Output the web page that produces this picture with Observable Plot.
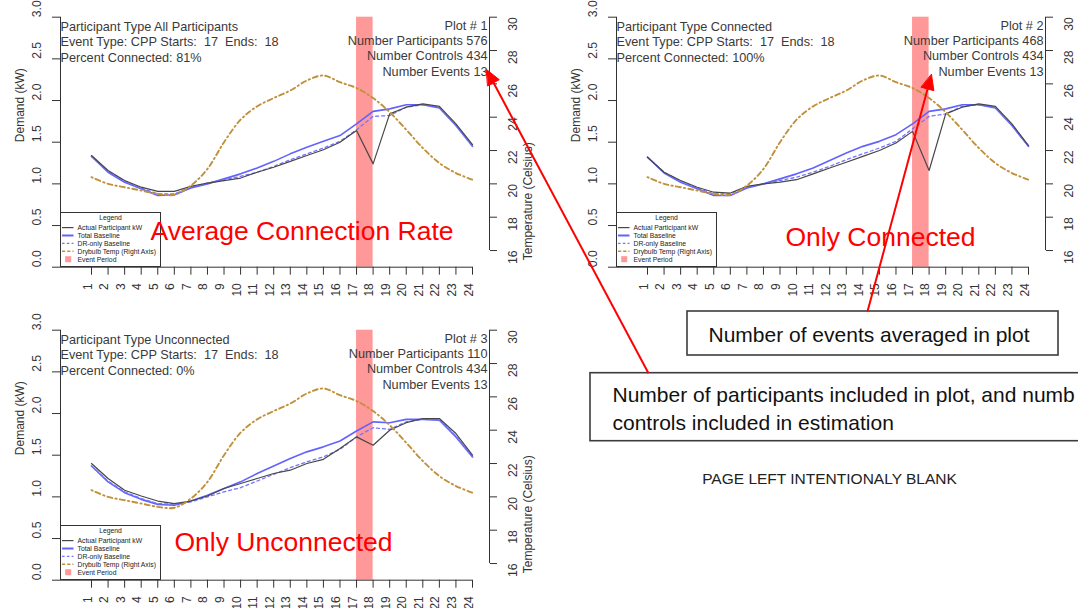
<!DOCTYPE html>
<html>
<head>
<meta charset="utf-8">
<script src="https://cdn.jsdelivr.net/npm/d3@7"></script>
<script src="https://cdn.jsdelivr.net/npm/@observablehq/plot@0.6"></script>
<style>
  html, body { margin: 0; padding: 0; background: #fff; }
  body { width: 1078px; height: 608px; overflow: hidden; position: relative; font-family: "Liberation Sans", Arial, Helvetica, sans-serif; }
  .panel { position: absolute; width: 545px; height: 305px; }
  .panel > svg, .overlay > svg { position: absolute; left: 0; top: 0; }
  .overlay { position: absolute; left: 0; top: 0; width: 1078px; height: 608px; pointer-events: none; }
  svg text { white-space: pre; }
  .legend { position: absolute; box-sizing: border-box; border: 1px solid #333; background: #fff; }
  .legend svg { position: absolute; left: 0; top: 0; }
</style>
</head>
<body>
<script>
// ---------------- DATA ----------------
const hours = [1,2,3,4,5,6,7,8,9,10,11,12,13,14,15,16,17,18,19,20,21,22,23,24];
const eventStart = 17;
const eventEnd = 18;
const demandTicks = [0, 0.5, 1.0, 1.5, 2.0, 2.5, 3.0];
const tempTicks = [16, 18, 20, 22, 24, 26, 28, 30];

// Drybulb temperature (°C), right axis
const temperature = [20.4, 20.0, 19.8, 19.6, 19.4, 19.35, 19.9, 20.9, 22.5, 23.85, 24.65, 25.15,
                     25.6, 26.2, 26.5, 26.1, 25.75, 25.15, 24.3, 23.25, 22.15, 21.25, 20.65, 20.25];

// Plot 1 – All participants
const actual1 = [1.34, 1.16, 1.04, 0.96, 0.91, 0.91, 0.97, 1.01, 1.04, 1.07, 1.14, 1.20,
                 1.27, 1.34, 1.41, 1.50, 1.64, 1.24, 1.84, 1.92, 1.96, 1.93, 1.72, 1.47];
const total1  = [1.33, 1.14, 1.02, 0.94, 0.86, 0.87, 0.95, 1.00, 1.06, 1.12, 1.19, 1.27,
                 1.36, 1.44, 1.51, 1.58, 1.72, 1.87, 1.90, 1.95, 1.95, 1.91, 1.70, 1.45];
const dr1     = [1.33, 1.15, 1.03, 0.95, 0.88, 0.88, 0.96, 1.01, 1.05, 1.09, 1.14, 1.21,
                 1.29, 1.36, 1.43, 1.51, 1.65, 1.81, 1.82, 1.92, 1.95, 1.92, 1.70, 1.45];
// Plot 2 – Connected
const actual2 = [1.32, 1.14, 1.04, 0.96, 0.90, 0.89, 0.97, 1.00, 1.02, 1.05, 1.12, 1.19,
                 1.26, 1.33, 1.40, 1.49, 1.63, 1.16, 1.84, 1.92, 1.96, 1.93, 1.72, 1.46];
const total2  = [1.32, 1.13, 1.02, 0.94, 0.86, 0.86, 0.95, 1.00, 1.06, 1.12, 1.19, 1.28,
                 1.37, 1.45, 1.51, 1.59, 1.72, 1.87, 1.90, 1.95, 1.95, 1.91, 1.70, 1.45];
const dr2     = [1.32, 1.14, 1.03, 0.95, 0.88, 0.88, 0.96, 1.00, 1.04, 1.08, 1.14, 1.21,
                 1.29, 1.36, 1.43, 1.51, 1.66, 1.81, 1.84, 1.93, 1.95, 1.92, 1.70, 1.45];
// Plot 3 – Unconnected
const actual3 = [1.40, 1.22, 1.08, 1.01, 0.95, 0.92, 0.95, 1.01, 1.10, 1.16, 1.22, 1.28,
                 1.32, 1.40, 1.45, 1.58, 1.72, 1.62, 1.80, 1.89, 1.94, 1.94, 1.76, 1.50];
const total3  = [1.37, 1.18, 1.05, 0.97, 0.91, 0.90, 0.95, 1.02, 1.10, 1.18, 1.28, 1.37,
                 1.46, 1.54, 1.60, 1.67, 1.79, 1.90, 1.89, 1.93, 1.93, 1.92, 1.72, 1.48];
const dr3     = [1.37, 1.19, 1.06, 0.98, 0.92, 0.91, 0.94, 1.00, 1.06, 1.11, 1.19, 1.27,
                 1.35, 1.42, 1.48, 1.57, 1.72, 1.83, 1.81, 1.90, 1.93, 1.93, 1.73, 1.48];

const infoLeft1  = ["Participant Type All Participants", "Event Type: CPP Starts:  17  Ends:  18", "Percent Connected: 81%"];
const infoRight1 = ["Plot # 1", "Number Participants 576", "Number Controls 434", "Number Events 13"];
const infoLeft2  = ["Participant Type Connected", "Event Type: CPP Starts:  17  Ends:  18", "Percent Connected: 100%"];
const infoRight2 = ["Plot # 2", "Number Participants 468", "Number Controls 434", "Number Events 13"];
const infoLeft3  = ["Participant Type Unconnected", "Event Type: CPP Starts:  17  Ends:  18", "Percent Connected: 0%"];
const infoRight3 = ["Plot # 3", "Number Participants 110", "Number Controls 434", "Number Events 13"];

const legendLabels = ["Actual Participant kW", "Total Baseline", "DR-only Baseline", "Drybulb Temp (Right Axis)", "Event Period"];
const yLabel = "Demand (kW)";
const y2Label = "Temperature (Celsius)";
const panelNotes = ["Average Connection Rate", "Only Connected", "Only Unconnected"];
const calloutEvents = "Number of events averaged in plot";
const calloutParticipants = ["Number of participants included in plot, and numb", "controls included in estimation"];
const blankNote = "PAGE LEFT INTENTIONALY BLANK";

// ---------------- STYLE / LAYOUT ----------------
const FONT = '"Liberation Sans", Arial, Helvetica, sans-serif';
const INK = "#333";
const C_ACTUAL = "#474747", C_TOTAL = "#6262ff", C_DR = "#7474ff", C_TEMP = "#c0913a", C_BAND = "#ff9898";
const L = {w: 545, h: 305, axisLeft: 60, axisRight: 489, yTop: 16.7, yBottom: 266.7, hour1: 91, hour24: 472};
const pxPerHour = (L.hour24 - L.hour1) / (hours.length - 1);
const xDomain = [1 - (L.hour1 - L.axisLeft) / pxPerHour, 24 + (L.axisRight - L.hour24) / pxPerHour];
const tempToD = t => (t - 15) / 5;   // 16..30 °C  ->  0.2..3.0 on the demand scale

const panels = [
  {left: 0,   top: 0,   infoL: infoLeft1, infoR: infoRight1, actual: actual1, total: total1, dr: dr1, y2: true},
  {left: 556, top: 0,   infoL: infoLeft2, infoR: infoRight2, actual: actual2, total: total2, dr: dr2, y2: false},
  {left: 0,   top: 313, infoL: infoLeft3, infoR: infoRight3, actual: actual3, total: total3, dr: dr3, y2: true}
];

function renderPanel(p) {
  const rows = hours.map((h, i) => ({hour: h, actual: p.actual[i], total: p.total[i], dr: p.dr[i], temp: tempToD(temperature[i])}));
  const marks = [
    Plot.rect([{start: eventStart, end: eventEnd}], {x1: "start", x2: "end", y1: () => demandTicks[0], y2: () => demandTicks[demandTicks.length - 1], fill: C_BAND}),
    // axis lines
    Plot.ruleX([xDomain[0]], {x: d => d, y1: () => 0, y2: () => 3, stroke: INK}),
    Plot.ruleY([0], {y: d => d, x1: () => xDomain[0], x2: () => hours[hours.length - 1], stroke: INK}),
    Plot.ruleX([xDomain[1]], {x: d => d, y1: () => tempToD(tempTicks[0]), y2: () => tempToD(tempTicks[tempTicks.length - 1]), stroke: INK}),
    // ticks
    Plot.axisY(demandTicks, {anchor: "left", tickSize: 8, tickFormat: () => "", label: null, stroke: INK}),
    Plot.axisY(tempTicks.map(tempToD), {anchor: "right", tickSize: 7, tickFormat: () => "", label: null, stroke: INK}),
    Plot.axisX(hours, {anchor: "bottom", tickSize: 8, tickFormat: () => "", label: null, stroke: INK}),
    // tick labels
    Plot.text(demandTicks, {y: d => d, frameAnchor: "left", text: d => d.toFixed(1), rotate: -90, dx: -23, fontSize: 12.2, fill: INK}),
    Plot.text(tempTicks, {y: d => tempToD(d), frameAnchor: "right", text: d => String(d), rotate: -90, dx: 24, fontSize: 12.2, fill: INK}),
    Plot.text(hours, {x: d => d, frameAnchor: "bottom", text: d => String(d), rotate: -90, textAnchor: "end", dy: 16, fontSize: 12, fill: INK}),
    Plot.text([yLabel], {y: () => 1.5, frameAnchor: "left", text: d => d, rotate: -90, dx: -40, fontSize: 12, fill: INK}),
    // series
    Plot.line(rows, {x: "hour", y: "total", stroke: C_TOTAL, strokeWidth: 1.6}),
    Plot.line(rows, {x: "hour", y: "dr", stroke: C_DR, strokeWidth: 1.3, strokeDasharray: "3,3"}),
    Plot.line(rows, {x: "hour", y: "actual", stroke: C_ACTUAL, strokeWidth: 1.2}),
    Plot.line(rows, {x: "hour", y: "temp", stroke: C_TEMP, strokeWidth: 1.9, strokeDasharray: "1.3,3.2,5,3.2", curve: "catmull-rom"}),
    // annotations inside plot
    Plot.text([p.infoL.join("\n")], {frameAnchor: "top-left", text: d => d, textAnchor: "start", lineAnchor: "bottom", lineHeight: 1.215, dy: 44.3, fontSize: 12.7, fill: "#3a3a3a"}),
    Plot.text([p.infoR.join("\n")], {frameAnchor: "top-right", text: d => d, textAnchor: "end", lineAnchor: "bottom", lineHeight: 1.205, dy: 58.3, dx: -2, fontSize: 12.7, fill: "#3a3a3a"})
  ];
  if (p.y2) marks.push(Plot.text([y2Label], {y: () => 1.5, frameAnchor: "right", text: d => d, rotate: -90, dx: 39, fontSize: 12, fill: INK}));

  const chart = Plot.plot({
    width: L.w, height: L.h,
    marginLeft: L.axisLeft, marginRight: L.w - L.axisRight,
    marginTop: L.yTop, marginBottom: L.h - L.yBottom,
    x: {domain: xDomain, axis: null},
    y: {domain: [0, 3], axis: null},
    style: {fontFamily: FONT, fontSize: "12px", color: INK, background: "transparent", overflow: "visible"},
    marks
  });

  const div = document.createElement("div");
  div.className = "panel";
  div.style.left = p.left + "px";
  div.style.top = p.top + "px";
  div.appendChild(chart);

  // legend box
  const lg = document.createElement("div");
  lg.className = "legend";
  lg.style.left = "60px"; lg.style.top = "211.7px"; lg.style.width = "101px"; lg.style.height = "55.5px";
  const rowsY = [14.6, 22.5, 30.4, 38.3, 46.2];
  const syms = [
    y => `<line x1="1" x2="12.5" y1="${y}" y2="${y}" stroke="${C_ACTUAL}" stroke-width="1.2"/>`,
    y => `<line x1="1" x2="12.5" y1="${y}" y2="${y}" stroke="${C_TOTAL}" stroke-width="2"/>`,
    y => `<line x1="1" x2="12.5" y1="${y}" y2="${y}" stroke="${C_DR}" stroke-width="1.2" stroke-dasharray="2.6,2.2"/>`,
    y => `<line x1="1" x2="12.5" y1="${y}" y2="${y}" stroke="${C_TEMP}" stroke-width="1.5" stroke-dasharray="3.2,2"/>`,
    y => `<rect x="4.2" y="${y - 3}" width="6" height="6" fill="${C_BAND}"/>`
  ];
  let inner = `<svg width="99" height="53" font-family='${FONT}' font-size="6.8" fill="#222">`;
  inner += `<text x="49.5" y="7" text-anchor="middle">Legend</text>`;
  legendLabels.forEach((t, i) => {
    inner += syms[i](rowsY[i]);
    inner += `<text x="16.5" y="${rowsY[i] + 2.3}">${t}</text>`;
  });
  inner += `</svg>`;
  lg.innerHTML = inner;
  div.appendChild(lg);
  document.body.appendChild(div);
}
panels.forEach(renderPanel);

// ---------------- OVERLAY (callouts & arrows) ----------------
const boxes = [
  {x1: 687, x2: 1058, y1: 311, y2: 355},
  {x1: 590, x2: 1100, y1: 372.7, y2: 440.7}
];
const boxTexts = [
  {x: 708, y: 341.7, text: calloutEvents},
  {x: 612, y: 401.8, text: calloutParticipants[0]},
  {x: 612, y: 429.4, text: calloutParticipants[1]}
];
const redNotes = [
  {x: 150, y: 239.3, text: panelNotes[0]},
  {x: 785, y: 245, text: panelNotes[1]},
  {x: 174, y: 550.7, text: panelNotes[2]}
];
const arrows = [
  {id: "a1", x1: 648, y1: 372.7, x2: 486, y2: 69},
  {id: "a2", x1: 867, y1: 311, x2: 931, y2: 74}
];
const HEAD_LEN = 15, HEAD_HALF = 6.5;
const shafts = [], heads = [];
arrows.forEach(a => {
  const dx = a.x2 - a.x1, dy = a.y2 - a.y1, len = Math.hypot(dx, dy);
  const ux = dx / len, uy = dy / len, nx = -uy, ny = ux;
  const bx = a.x2 - ux * HEAD_LEN, by = a.y2 - uy * HEAD_LEN;
  shafts.push({x1: a.x1, y1: a.y1, x2: bx + ux * 2, y2: by + uy * 2});
  heads.push({id: a.id, x: a.x2, y: a.y2});
  heads.push({id: a.id, x: bx + nx * HEAD_HALF, y: by + ny * HEAD_HALF});
  heads.push({id: a.id, x: bx - nx * HEAD_HALF, y: by - ny * HEAD_HALF});
});

const overlay = Plot.plot({
  width: 1078, height: 608, margin: 0,
  x: {domain: [0, 1078], range: [0, 1078], axis: null},
  y: {domain: [0, 608], range: [0, 608], axis: null},
  style: {fontFamily: FONT, background: "transparent"},
  marks: [
    Plot.rect(boxes, {x1: "x1", x2: "x2", y1: "y1", y2: "y2", fill: "white", stroke: "#3c3c3c", strokeWidth: 1.6}),
    Plot.text(boxTexts, {x: "x", y: "y", text: "text", textAnchor: "start", lineAnchor: "bottom", fontSize: 21, fill: "#111"}),
    Plot.text([blankNote], {x: () => 829, y: () => 483.5, text: d => d, textAnchor: "middle", lineAnchor: "bottom", fontSize: 15.5, fill: "#222"}),
    Plot.text(redNotes, {x: "x", y: "y", text: "text", textAnchor: "start", lineAnchor: "bottom", fontSize: 26.5, fill: "#ff0000"}),
    Plot.link(shafts, {x1: "x1", y1: "y1", x2: "x2", y2: "y2", stroke: "#ff0000", strokeWidth: 2}),
    Plot.line(heads, {x: "x", y: "y", z: "id", fill: "#ff0000", stroke: "#ff0000", strokeWidth: 1, curve: "linear-closed"})
  ]
});
const ov = document.createElement("div");
ov.className = "overlay";
ov.appendChild(overlay);
document.body.appendChild(ov);
</script>
</body>
</html>
